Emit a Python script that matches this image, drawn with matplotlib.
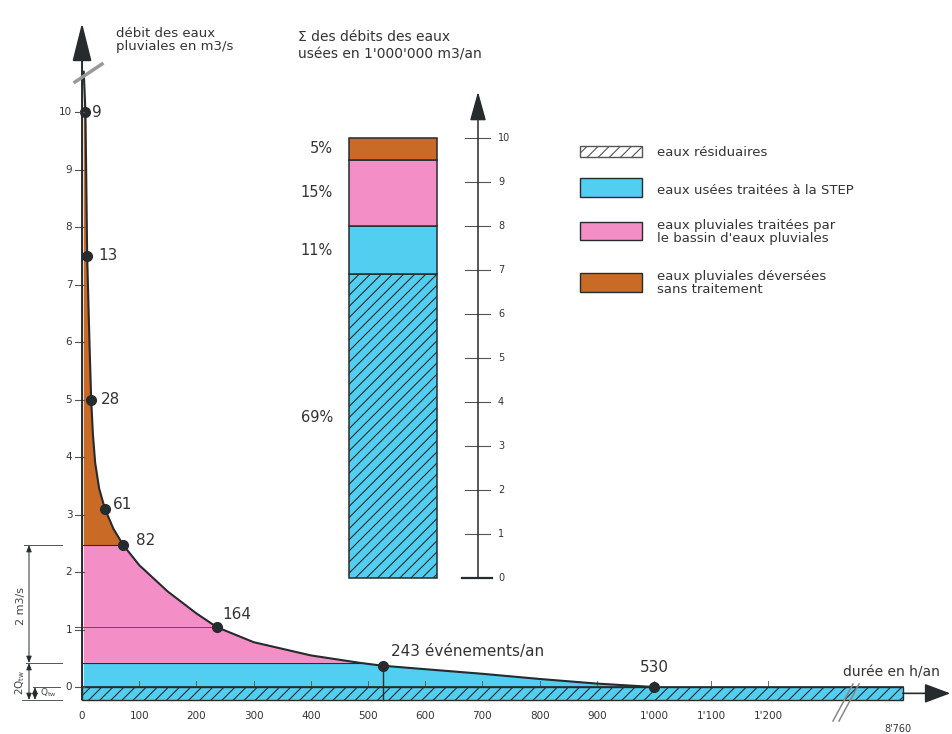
import numpy as np
import matplotlib.pyplot as plt
from matplotlib.patches import Rectangle

plt.rcParams['hatch.linewidth'] = 0.8

# courbe des durées : heures/an et débit des eaux pluviales (m3/s)
heures = [3, 6, 9, 13, 16, 19, 23, 30, 40, 55, 72, 100, 150, 200, 236, 300, 400, 486, 526, 600, 700, 800, 900, 1000]
debit = [10.7, 10.0, 7.5, 6.0, 5.0, 4.4, 3.9, 3.45, 3.1, 2.75, 2.47, 2.12, 1.66, 1.28, 1.04, 0.78, 0.55, 0.42, 0.37, 0.31, 0.23, 0.14, 0.06, 0.0]
# points repérés et nombre d'événements/an
idx_points = [1, 2, 4, 8, 10, 14, 18, 23]
evenements = ['9', '13', '28', '61', '82', '164', '243 événements/an', '530']
decal_labels = [(5, 0), (8, 0), (7, 0), (6, 3), (9, 3), (4, 9), (6, 10), (0, 14)]

q_tw = 0.22        # débit temps sec (bande hachurée)
q_step = 0.42      # 2 Qtw -> STEP
q_bassin = 2.47    # limite bassin d'eaux pluviales

x_ticks = [0, 100, 200, 300, 400, 500, 600, 700, 800, 900, 1000, 1100, 1200]
x_labels = ['0', '100', '200', '300', '400', '500', '600', '700', '800', '900', "1'000", "1'100", "1'200"]
y_ticks = list(range(11))
x_fin = 1435       # position de 8'760 h après la coupure de l'axe

# barre : sommes annuelles en 1'000'000 m3/an
parts = ['eaux résiduaires', 'eaux usées traitées à la STEP',
         "eaux pluviales traitées par\nle bassin d'eaux pluviales",
         'eaux pluviales déversées\nsans traitement']
volumes = [6.9, 1.1, 1.5, 0.5]
pourcent = [69, 11, 15, 5]

bleu = '#52cff0'
rose = '#f48ec6'
orange = '#c96a26'
trait = '#262b2e'
gris = '#555555'
couleurs = [bleu, bleu, rose, orange]

fig = plt.figure(figsize=(9.52, 7.34), dpi=100)

# --- graphique principal ---
ax = fig.add_axes([0, 0, 1, 1])
ax.set_xlim(-143.4, 1521)
ax.set_ylim(-0.817, 11.948)
ax.axis('off')

h = np.array(heures, dtype=float)
q = np.array(debit)
i_step = heures.index(486)
i_bassin = heures.index(72)

ax.fill_between(h, 0, np.minimum(q, q_step), facecolor=bleu, lw=0, zorder=1)
ax.fill_between(h, q_step, np.minimum(q, q_bassin), where=q >= q_step, interpolate=True,
                facecolor=rose, lw=0, zorder=1)
ax.fill_between(h, q_bassin, q, where=q >= q_bassin, interpolate=True,
                facecolor=orange, lw=0, zorder=1)
# bande des eaux résiduaires
ax.add_patch(Rectangle((0, -q_tw), x_fin, q_tw, facecolor=bleu, edgecolor=trait,
                       hatch='///', lw=1.0, zorder=3))
ax.plot([0, x_fin], [0, 0], color=trait, lw=1.2, zorder=4)
ax.plot([0, h[i_step]], [q_step, q_step], color=trait, lw=0.8, zorder=2)
ax.plot([0, h[i_bassin]], [q_bassin, q_bassin], color=trait, lw=0.8, zorder=2)

ax.plot(h, q, color=trait, lw=1.5, zorder=5)
ax.plot(h[idx_points], q[idx_points], 'o', ms=7, color=trait, zorder=6)
for i, lab, (dx, dy) in zip(idx_points, evenements, decal_labels):
    ax.annotate(lab, (h[i], q[i]), xytext=(dx, dy), textcoords='offset points',
                ha='left' if dx > 0 else 'center', va='center', fontsize=11, color='#333')

# repères
i164, i243 = idx_points[5], idx_points[6]
ax.plot([-12, h[i164]], [q[i164], q[i164]], color=gris, lw=0.7, zorder=2)
ax.plot([h[i243], h[i243]], [-q_tw, q[i243]], color=trait, lw=1.0, zorder=5)

# axes
ax.annotate('', xy=(0, 11.55), xytext=(0, -q_tw),
            arrowprops=dict(arrowstyle='-|>,head_length=1.2,head_width=0.3', mutation_scale=20,
                            color=trait, lw=1.4, shrinkA=0, shrinkB=0), zorder=7)
ax.annotate('', xy=(1518, -0.11), xytext=(x_fin, -0.11),
            arrowprops=dict(arrowstyle='-|>,head_length=0.8,head_width=0.3', mutation_scale=20,
                            color=trait, lw=1.2, shrinkA=0, shrinkB=0), zorder=7)
for v in y_ticks:
    ax.plot([-12, 3], [v, v], color=gris, lw=0.8, zorder=6)
    ax.text(-17, v, str(v), ha='right', va='center', fontsize=7.5, color='#333')
for v, lab in zip(x_ticks, x_labels):
    if v > 0:
        ax.plot([v, v], [0, 0.1], color=gris, lw=0.6, zorder=2)
    ax.text(v, -0.5, lab, ha='center', va='center', fontsize=7.5, color='#333')
ax.text(x_fin - 8, -0.73, "8'760", ha='center', va='center', fontsize=7, color='#333')

# --- barre des volumes annuels ---
axb = fig.add_axes([280 / 952, 134 / 734, 280 / 952, 540 / 734])
axb.set_xlim(280, 560)
axb.set_ylim(-0.5, 11.77)
axb.axis('off')
bas = np.concatenate([[0], np.cumsum(volumes)[:-1]])
for i, (v, b, p) in enumerate(zip(volumes, bas, pourcent)):
    axb.bar(393, v, bottom=b, width=88, facecolor=couleurs[i], edgecolor=trait, lw=1.1,
            hatch='///' if i == 0 else None)
    axb.text(333, b + v / 2 + (0.2 if i == 0 else 0), f'{p}%', ha='right', va='center',
             fontsize=10.5, color='#333')
axb.annotate('', xy=(478, 11.05), xytext=(478, 0),
             arrowprops=dict(arrowstyle='-|>,head_length=0.9,head_width=0.25', mutation_scale=20,
                             color=trait, lw=1.1, shrinkA=0, shrinkB=0))
axb.plot([462, 492], [0, 0], color=trait, lw=1.6)
for v in range(1, 11):
    axb.plot([465, 490], [v, v], color=gris, lw=0.8)
for v in range(0, 11):
    axb.text(498, v, str(v), ha='left', va='center', fontsize=7, color='#333')

# --- textes, légende et cotes (coordonnées en pixels) ---
ann = fig.add_axes([0, 0, 1, 1])
ann.set_xlim(0, 952)
ann.set_ylim(734, 0)
ann.axis('off')

ann.text(116, 40, 'débit des eaux\npluviales en m3/s', ha='left', va='center', fontsize=9.5,
         color='#333', linespacing=1.05)
ann.text(298, 46, "Σ des débits des eaux\nusées en 1'000'000 m3/an", ha='left', va='center',
         fontsize=10, color='#333', linespacing=1.3)
ann.text(843, 672, 'durée en h/an', ha='left', va='center', fontsize=10, color='#333')

# coupures des axes
ann.plot([75, 102], [82, 64], color='#999', lw=2.5)
ann.plot([833, 853], [721, 684], color='#888', lw=1.1)
ann.plot([839, 859], [721, 684], color='#888', lw=1.1)

# légende
boites = [(146, 11), (178, 19), (222, 18), (273, 19)]
y_textes = [152, 190, 232, 283]
for i, ((y0, hb), lab, yt) in enumerate(zip(boites, parts, y_textes)):
    if i == 0:
        ann.add_patch(Rectangle((580, y0), 62, hb, facecolor='white', edgecolor=gris,
                                hatch='///', lw=1.0))
    else:
        ann.add_patch(Rectangle((580, y0), 62, hb, facecolor=couleurs[i], edgecolor=trait, lw=1.0))
    ann.text(657, yt, lab, ha='left', va='center', fontsize=9.5, color='#333', linespacing=1.05)

# cotes à gauche
for yy, x0 in [(545, 24), (663, 26), (700, 22)]:
    ann.plot([x0, 62], [yy, yy], color=gris, lw=0.7)
ann.plot([33, 60], [687, 687], color=gris, lw=0.7)
for y1, y2, xx in [(545, 663, 29), (663, 700, 29), (687, 700, 35)]:
    ann.annotate('', xy=(xx, y1), xytext=(xx, y2),
                 arrowprops=dict(arrowstyle='<|-|>,head_length=0.5,head_width=0.2',
                                 mutation_scale=8, color=trait, lw=0.7, shrinkA=0, shrinkB=0))
ann.text(21, 606, '2 m3/s', rotation=90, ha='center', va='center', fontsize=8, color='#444')
ann.text(20, 682, r'2Q$_{\rm tw}$', rotation=90, ha='center', va='center', fontsize=7.5, color='#444')
ann.text(48, 693, r'Q$_{\rm tw}$', ha='center', va='center', fontsize=6.5, color='#444')

fig.savefig('out.png', dpi=100, facecolor='white')
